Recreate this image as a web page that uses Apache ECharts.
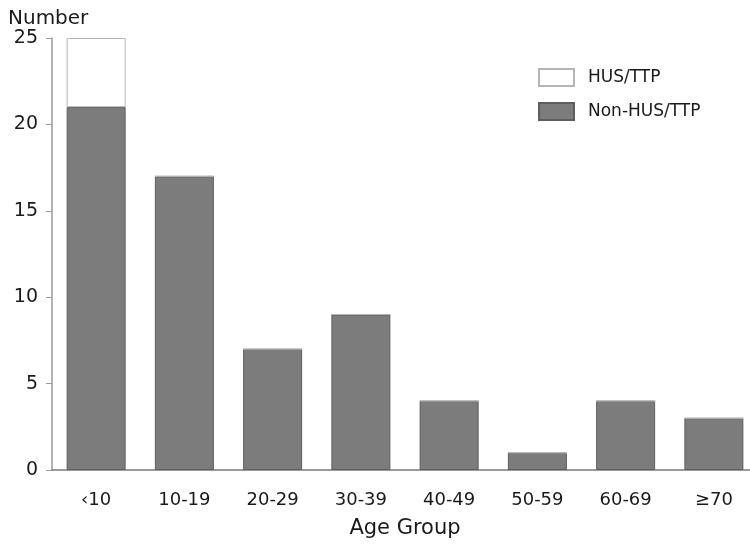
<!DOCTYPE html>
<html>
<head>
<meta charset="utf-8">
<script src="https://cdn.jsdelivr.net/npm/echarts@6/dist/echarts.min.js"></script>
<style>html,body{margin:0;padding:0;background:#fff;}#c{width:750px;height:544px;}</style>
</head>
<body>
<div id="c"></div>
<script>
const categories = ['‹10', '10-19', '20-29', '30-39', '40-49', '50-59', '60-69', '≥70'];
const nonHus = [21, 17, 7, 9, 4, 1, 4, 3];
const hus = [4, 0, 0, 0, 0, 0, 0, 0];
const yTicks = { min: 0, max: 25, interval: 5 };

const font = 'DejaVu Sans';
const chart = echarts.init(document.getElementById('c'));
chart.setOption({
  backgroundColor: '#fff',
  animation: false,
  grid: { left: 52, top: 38, width: 706, height: 432, outerBoundsMode: 'none', containLabel: false },
  legend: {
    orient: 'vertical', left: 538, top: 68, padding: 0, itemWidth: 35, itemHeight: 17, itemGap: 15,
    icon: 'rect',
    data: ['HUS/TTP', 'Non-HUS/TTP'],
    textStyle: { fontFamily: font, fontSize: 17, color: '#1a1a1a', padding: [0, 0, 0, 9] }
  },
  xAxis: {
    type: 'category', data: categories,
    name: 'Age Group', nameLocation: 'middle', nameGap: 48,
    nameTextStyle: { fontFamily: font, fontSize: 21, color: '#1a1a1a' },
    axisLine: { lineStyle: { color: '#7a7a7a', width: 1.5 } },
    axisTick: { alignWithLabel: true, length: 8, lineStyle: { color: '#8a8a8a' } },
    axisLabel: { fontFamily: font, fontSize: 18, color: '#1a1a1a', margin: 21 }
  },
  yAxis: {
    type: 'value', min: yTicks.min, max: yTicks.max, interval: yTicks.interval,
    name: 'Number', nameLocation: 'end', nameGap: 8,
    nameTextStyle: { fontFamily: font, fontSize: 20, color: '#1a1a1a', align: 'left', padding: [0, 0, 0, -44] },
    axisLine: { show: true, lineStyle: { color: '#9a9a9a', width: 1.5 } },
    axisTick: { show: true, length: 6, lineStyle: { color: '#9a9a9a' } },
    axisLabel: { fontFamily: font, fontSize: 19, color: '#1a1a1a', margin: 14 },
    splitLine: { show: false }
  },
  series: [
    {
      name: 'Non-HUS/TTP', type: 'bar', stack: 's', data: nonHus, barWidth: 59,
      itemStyle: { color: '#7c7c7c', borderColor: '#5e5e5e', borderWidth: 1 }
    },
    {
      name: 'HUS/TTP', type: 'bar', stack: 's', data: hus, barWidth: 59,
      itemStyle: { color: '#ffffff', borderColor: '#b5b5b5', borderWidth: 1 }
    }
  ]
});
</script>
</body>
</html>
